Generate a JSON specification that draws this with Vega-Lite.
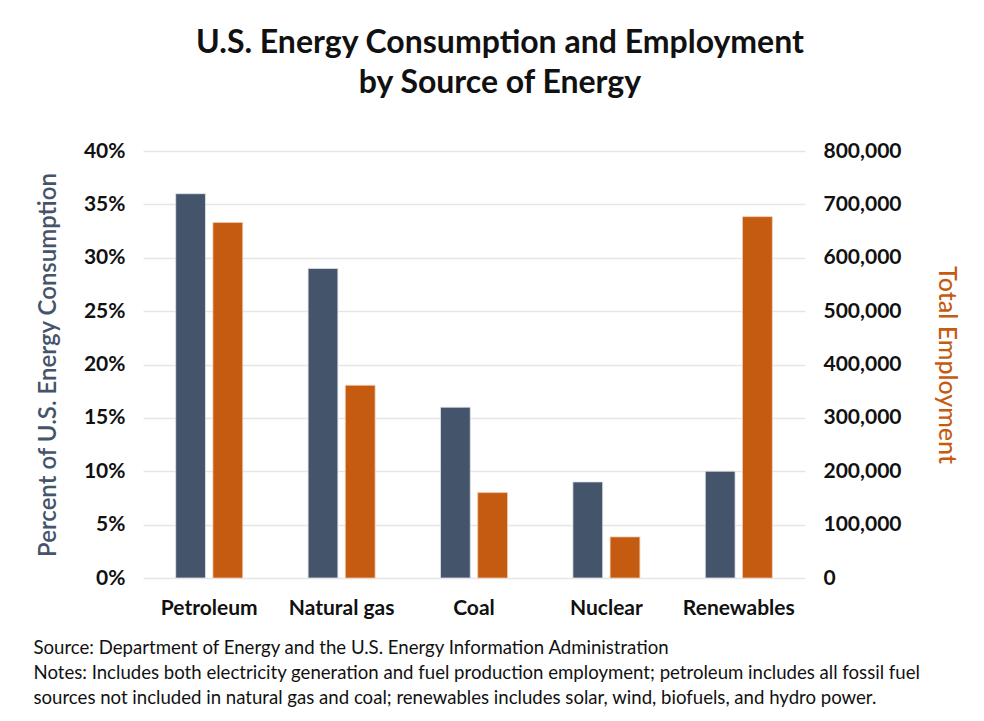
{
  "$schema": "https://vega.github.io/schema/vega-lite/v6.json",
  "width": 662,
  "height": 427,
  "autosize": {"type": "none"},
  "padding": {"left": 143, "top": 151, "right": 179, "bottom": 143},
  "background": "white",
  "config": {
    "font": "Lato",
    "view": {"stroke": null}
  },
  "title": {
    "text": ["U.S. Energy Consumption and Employment", "by Source of Energy"],
    "font": "Lato",
    "fontSize": 32,
    "fontWeight": "bold",
    "color": "#111111",
    "lineHeight": 40,
    "anchor": "middle",
    "frame": "group",
    "dx": 26,
    "offset": 40
  },
  "data": {
    "values": [
      {"source": "Petroleum", "series": "pct", "value": 36},
      {"source": "Natural gas", "series": "pct", "value": 29},
      {"source": "Coal", "series": "pct", "value": 16},
      {"source": "Nuclear", "series": "pct", "value": 9},
      {"source": "Renewables", "series": "pct", "value": 10},
      {"source": "Petroleum", "series": "emp", "value": 666000},
      {"source": "Natural gas", "series": "emp", "value": 361000},
      {"source": "Coal", "series": "emp", "value": 160000},
      {"source": "Nuclear", "series": "emp", "value": 77000},
      {"source": "Renewables", "series": "emp", "value": 677000}
    ]
  },
  "encoding": {
    "x": {
      "field": "source",
      "type": "nominal",
      "sort": ["Petroleum", "Natural gas", "Coal", "Nuclear", "Renewables"],
      "scale": {"paddingInner": 0.494, "paddingOuter": 0.247},
      "axis": {
        "labelAngle": 0,
        "labelFontSize": 21,
        "labelFontWeight": "bold",
        "labelColor": "#111111",
        "labelPadding": 19,
        "domain": false,
        "ticks": false,
        "grid": false,
        "title": [
          "Source: Department of Energy and the U.S. Energy Information Administration",
          "Notes: Includes both electricity generation and fuel production employment; petroleum includes all fossil fuel",
          "sources not included in natural gas and coal; renewables includes solar, wind, biofuels, and hydro power."
        ],
        "titleFontSize": 18.6,
        "titleFontWeight": "normal",
        "titleColor": "#111111",
        "titleLineHeight": 25,
        "titleAlign": "left",
        "titleAnchor": "start",
        "titleBaseline": "alphabetic",
        "titleX": -110,
        "titleY": 75
      }
    },
    "xOffset": {
      "field": "series",
      "type": "nominal",
      "scale": {"domain": ["pct", "emp"], "paddingInner": 0.2, "paddingOuter": 0}
    }
  },
  "layer": [
    {
      "transform": [{"filter": "datum.series === 'pct'"}],
      "mark": {"type": "bar", "color": "#44546A", "stroke": "#dfe3ea", "strokeWidth": 0.8},
      "encoding": {
        "y": {
          "field": "value",
          "type": "quantitative",
          "scale": {"domain": [0, 40]},
          "axis": {
            "orient": "left",
            "values": [0, 5, 10, 15, 20, 25, 30, 35, 40],
            "labelExpr": "datum.value + '%'",
            "labelFontSize": 21,
            "labelFontWeight": "bold",
            "labelColor": "#111111",
            "labelPadding": 18,
            "domain": false,
            "ticks": false,
            "grid": true,
            "gridColor": "#e6e6e6",
            "gridWidth": 1.5,
            "title": "Percent of U.S. Energy Consumption",
            "titleFontSize": 24,
            "titleFontWeight": 600,
            "titleColor": "#44546A",
            "titlePadding": 23
          }
        }
      }
    },
    {
      "transform": [{"filter": "datum.series === 'emp'"}],
      "mark": {"type": "bar", "color": "#C55A11", "stroke": "#f2c9ad", "strokeWidth": 0.8},
      "encoding": {
        "y": {
          "field": "value",
          "type": "quantitative",
          "scale": {"domain": [0, 800000]},
          "axis": {
            "orient": "right",
            "values": [0, 100000, 200000, 300000, 400000, 500000, 600000, 700000, 800000],
            "format": ",d",
            "labelFontSize": 21,
            "labelFontWeight": "bold",
            "labelColor": "#111111",
            "labelPadding": 18,
            "domain": false,
            "ticks": false,
            "grid": false,
            "title": "Total Employment",
            "titleFontSize": 25,
            "titleFontWeight": 500,
            "titleColor": "#C55A11",
            "titlePadding": 33
          }
        }
      }
    }
  ],
  "resolve": {"scale": {"y": "independent"}}
}
